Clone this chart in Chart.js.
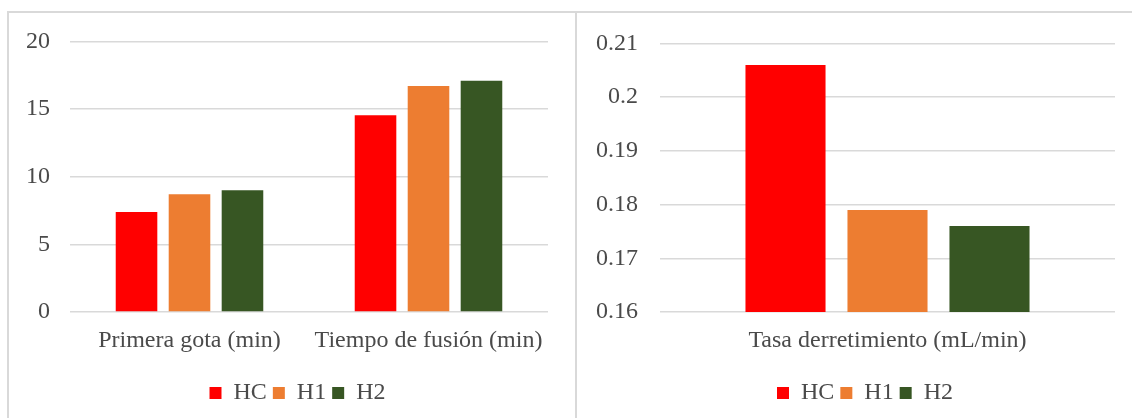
<!DOCTYPE html>
<html>
<head>
<meta charset="utf-8">
<script src="https://cdn.jsdelivr.net/npm/chart.js@4"></script>
<style>
  body { margin: 0; background: #fff; width: 1132px; height: 418px; overflow: hidden; position: relative; }
  .box { position: absolute; top: 11px; height: 420px; border: 2px solid #d9d9d9; }
  #left { left: 7px; width: 566px; }
  #right { left: 575px; width: 600px; }
  canvas { display: block; position: absolute; top: 7px; }
  #c1 { left: 9px; }
  #c2 { left: 577px; }
</style>
</head>
<body>
<div class="box" id="left"></div>
<div class="box" id="right"></div>
<canvas id="c1" width="566" height="411"></canvas>
<canvas id="c2" width="555" height="411"></canvas>
<script>
// chart values
const seriesNames = ['HC', 'H1', 'H2']
const seriesColors = ['#ff0000', '#ed7d31', '#375623']

const timeCategories = ['Primera gota (min)', 'Tiempo de fusión (min)']
const timeHC = [7.4, 14.55]
const timeH1 = [8.7, 16.7]
const timeH2 = [9.0, 17.1]
const timeTicks = [0, 5, 10, 15, 20]

const rateCategories = ['Tasa derretimiento (mL/min)']
const rateHC = [0.206]
const rateH1 = [0.179]
const rateH2 = [0.176]
const rateTicks = [0.16, 0.17, 0.18, 0.19, 0.2, 0.21]

const font = { family: '"Liberation Serif", "Times New Roman", serif', size: 24 }
const textColor = '#4a4a4a'

// legend in the reference sits centred under the plot, not under the whole canvas
const shiftLegend = {
    id: 'shiftLegend',
    afterLayout(chart, args, opts) {
        chart.legend.left += opts.dx
        chart.legend.right += opts.dx
    }
}

function makeChart(id, labels, values, ticks, yWidth, padRight, tickPad, catPct) {
    const datasets = values.map((v, i) => ({
        label: seriesNames[i],
        data: v,
        backgroundColor: seriesColors[i],
        borderWidth: 0,
        categoryPercentage: catPct,
        barPercentage: 0.785
    }))
    return new Chart(document.getElementById(id), {
        type: 'bar',
        data: { labels: labels, datasets: datasets },
        plugins: [shiftLegend],
        options: {
            responsive: false,
            animation: false,
            layout: { padding: { top: 23, right: padRight, left: 0, bottom: 3 } },
            plugins: {
                tooltip: { enabled: false },
                shiftLegend: { dx: 19 },
                legend: {
                    position: 'bottom',
                    labels: {
                        boxWidth: 12,
                        boxHeight: 12,
                        padding: 6,
                        color: textColor,
                        font: font
                    }
                }
            },
            scales: {
                x: {
                    grid: { display: false },
                    border: { display: false },
                    ticks: { color: textColor, font: font, padding: 6, maxRotation: 0 },
                    afterFit: (s) => { s.height = 63 }
                },
                y: {
                    min: ticks[0],
                    max: ticks[ticks.length - 1],
                    afterBuildTicks: (s) => { s.ticks = ticks.map(v => ({ value: v })) },
                    grid: { color: '#d9d9d9', lineWidth: 1.5, drawTicks: false },
                    border: { display: false },
                    ticks: {
                        color: textColor,
                        font: font,
                        padding: tickPad,
                        callback: (v) => String(+Number(v).toFixed(2))
                    },
                    afterFit: (s) => { s.width = yWidth }
                }
            }
        }
    })
}

makeChart('c1', timeCategories, [timeHC, timeH1, timeH2], timeTicks, 61, 27, 20, 0.665)
makeChart('c2', rateCategories, [rateHC, rateH1, rateH2], rateTicks, 83, 17, 22, 0.6725)
</script>
</body>
</html>
